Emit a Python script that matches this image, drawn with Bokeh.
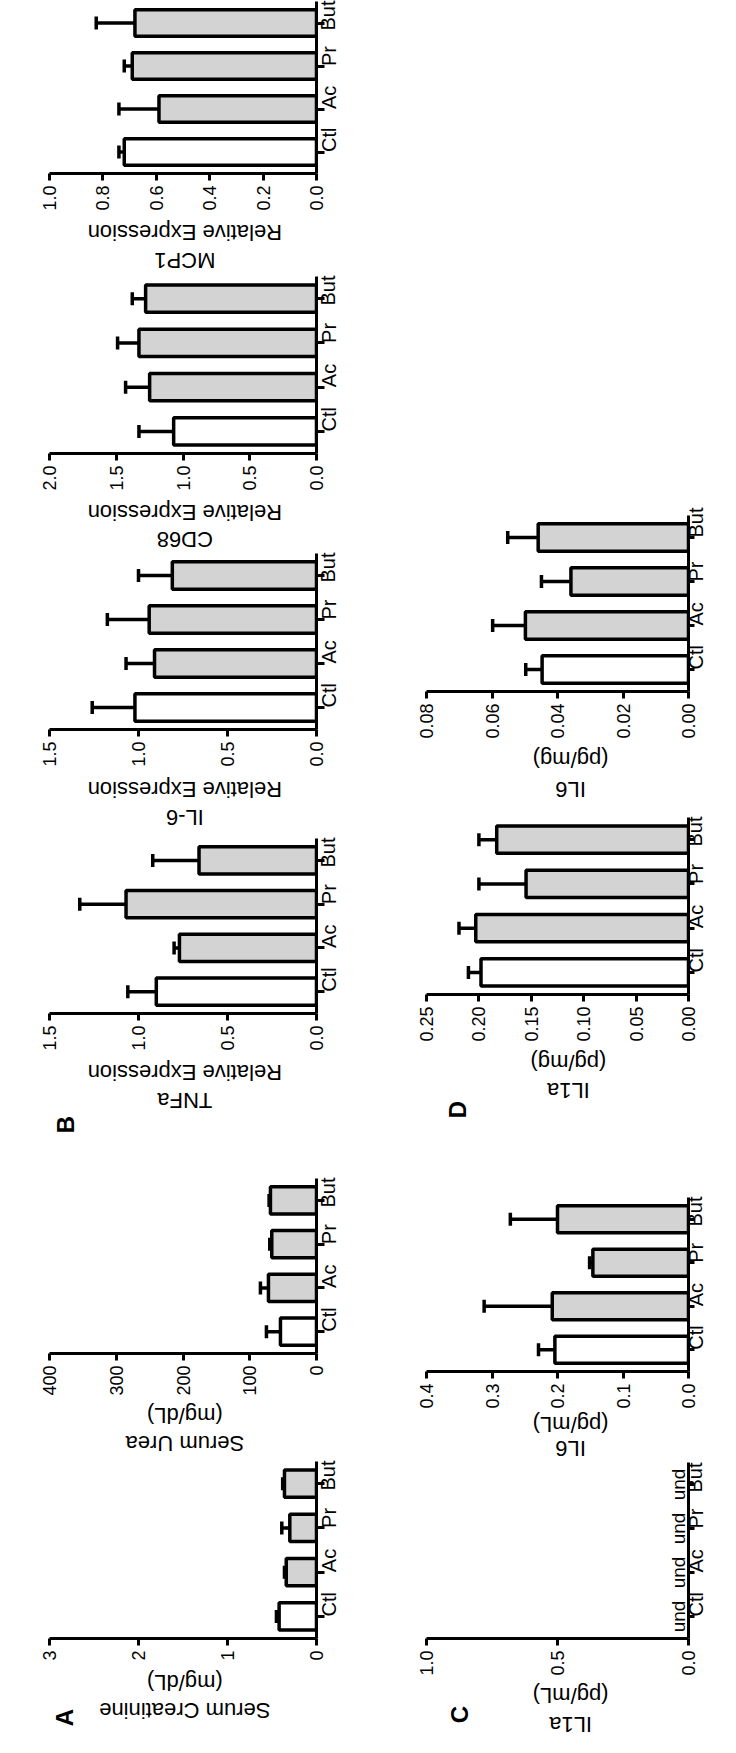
import math
from bokeh.plotting import figure
from bokeh.models import (ColumnDataSource, Range1d, FixedTicker, PrintfTickFormatter,
                          Whisker, TeeHead)
from bokeh.layouts import column, row
from bokeh.embed import file_html
from bokeh.resources import INLINE
from bokeh.core.properties import value

# ---------------- data ----------------
categories = ["Ctl", "Ac", "Pr", "But"]
bar_colors = ["#ffffff", "#d3d3d3", "#d3d3d3", "#d3d3d3"]

# Panel B
mcp1_mean = [0.72, 0.59, 0.69, 0.68]
mcp1_sem = [0.02, 0.15, 0.03, 0.145]
mcp1_ticks = [0.0, 0.2, 0.4, 0.6, 0.8, 1.0]
mcp1_tick_labels = ["0.0", "0.2", "0.4", "0.6", "0.8", "1.0"]

cd68_mean = [1.07, 1.25, 1.33, 1.28]
cd68_sem = [0.26, 0.18, 0.16, 0.10]
cd68_ticks = [0.0, 0.5, 1.0, 1.5, 2.0]
cd68_tick_labels = ["0.0", "0.5", "1.0", "1.5", "2.0"]

il6_mean = [1.02, 0.91, 0.94, 0.81]
il6_sem = [0.24, 0.16, 0.235, 0.19]
il6_ticks = [0.0, 0.5, 1.0, 1.5]
il6_tick_labels = ["0.0", "0.5", "1.0", "1.5"]

tnfa_mean = [0.90, 0.77, 1.07, 0.66]
tnfa_sem = [0.16, 0.03, 0.26, 0.26]
tnfa_ticks = [0.0, 0.5, 1.0, 1.5]
tnfa_tick_labels = ["0.0", "0.5", "1.0", "1.5"]

# Panel A
urea_mean = [54, 72, 67, 69]
urea_sem = [21, 12, 3, 2]
urea_ticks = [0, 100, 200, 300, 400]
urea_tick_labels = ["0", "100", "200", "300", "400"]

creat_mean = [0.42, 0.34, 0.30, 0.36]
creat_sem = [0.03, 0.02, 0.09, 0.02]
creat_ticks = [0, 1, 2, 3]
creat_tick_labels = ["0", "1", "2", "3"]

# Panel D
il6_mg_mean = [0.0447, 0.0498, 0.0359, 0.0459]
il6_mg_sem = [0.0050, 0.0100, 0.0090, 0.0093]
il6_mg_ticks = [0.0, 0.02, 0.04, 0.06, 0.08]
il6_mg_tick_labels = ["0.00", "0.02", "0.04", "0.06", "0.08"]

il1a_mg_mean = [0.198, 0.203, 0.155, 0.183]
il1a_mg_sem = [0.012, 0.016, 0.045, 0.017]
il1a_mg_ticks = [0.0, 0.05, 0.10, 0.15, 0.20, 0.25]
il1a_mg_tick_labels = ["0.00", "0.05", "0.10", "0.15", "0.20", "0.25"]

# Panel C
il6_ml_mean = [0.204, 0.208, 0.146, 0.200]
il6_ml_sem = [0.025, 0.104, 0.005, 0.072]
il6_ml_ticks = [0.0, 0.1, 0.2, 0.3, 0.4]
il6_ml_tick_labels = ["0.0", "0.1", "0.2", "0.3", "0.4"]

il1a_ml_text = ["und", "und", "und", "und"]
il1a_ml_ticks = [0.0, 0.5, 1.0]
il1a_ml_tick_labels = ["0.0", "0.5", "1.0"]

FONT = "Liberation Sans"
TICK_PX = 18


def axis_zone(tick_labels):
    # room needed under the frame for ticks + vertical tick labels
    w = max(TICK_PX * (0.556 * sum(c.isdigit() for c in t) + 0.278 * t.count("."))
            for t in tick_labels)
    return int(7 + 5 + w + 2)


def bar_panel(mean, sem, ticks, tick_labels, fig_w, fl, fr, ft, frame_h, zone, und=None):
    vmax = ticks[-1]
    p = figure(width=fig_w, height=ft + frame_h + zone, y_range=categories,
               x_range=Range1d(vmax, 0), output_backend="svg",
               toolbar_location=None, x_axis_location="below",
               y_axis_location="right",
               min_border_left=fl, min_border_right=fr,
               min_border_top=ft, min_border_bottom=zone)
    p.outline_line_color = None
    p.grid.visible = False
    p.background_fill_color = "white"
    p.border_fill_color = "white"

    if mean is not None:
        tops = [m + s for m, s in zip(mean, sem)]
        src = ColumnDataSource(dict(cat=categories, mean=mean, top=tops,
                                    color=bar_colors))
        w = Whisker(source=src, base="cat", lower="mean", upper="top",
                    dimension="width", line_color="black", line_width=3.5,
                    upper_head=TeeHead(size=13, line_color="black", line_width=3.5),
                    lower_head=None, level="glyph")
        p.add_layout(w)
        p.hbar(y="cat", left=0, right="mean", height=0.62, fill_color="color",
               line_color="black", line_width=3.5, source=src)
    if und is not None:
        usrc = ColumnDataSource(dict(cat=categories, txt=und, x=[0] * len(und)))
        p.text(x="x", y="cat", text="txt", source=usrc, angle=math.pi / 2,
               text_align="center", text_baseline="bottom",
               text_font=value(FONT), text_font_size="19px", text_color="black")

    dec = max((len(t.split(".")[1]) if "." in t else 0) for t in tick_labels)
    xa = p.xaxis[0]
    xa.ticker = FixedTicker(ticks=ticks)
    xa.formatter = PrintfTickFormatter(format="%." + str(dec) + "f")
    xa.major_label_orientation = math.pi / 2
    xa.axis_line_width = 3
    xa.axis_line_color = "black"
    xa.major_tick_line_width = 3
    xa.major_tick_out = 7
    xa.major_tick_in = 0
    xa.minor_tick_line_color = None
    xa.major_label_standoff = 5
    xa.major_label_text_font = FONT
    xa.major_label_text_font_size = str(TICK_PX) + "px"
    xa.major_label_text_color = "black"

    ya = p.yaxis[0]
    ya.major_label_orientation = math.pi / 2
    ya.axis_line_width = 3
    ya.axis_line_color = "black"
    ya.major_tick_line_width = 3
    ya.major_tick_out = 6 if fr < 40 else 8
    ya.major_tick_in = 0
    ya.major_label_standoff = 1 if fr < 40 else 4
    ya.major_label_text_font = FONT
    ya.major_label_text_font_size = "20px"
    ya.major_label_text_color = "black"
    return p


def title_strip(fig_w, h, xc, lines, letter=None):
    # strip under a panel holding its (upside-down) two-line value-axis title
    p = figure(width=fig_w, height=h, x_range=Range1d(0, fig_w), y_range=Range1d(0, h),
               output_backend="svg", toolbar_location=None,
               x_axis_type=None, y_axis_type=None,
               min_border_left=0, min_border_right=0,
               min_border_top=0, min_border_bottom=0)
    p.outline_line_color = None
    p.grid.visible = False
    p.background_fill_color = "white"
    p.border_fill_color = "white"
    txt = [t for t, _ in lines]
    ys = [h - d for _, d in lines]
    p.text(x=[xc] * len(txt), y=ys, text=txt, angle=math.pi,
           text_align="center", text_baseline="middle",
           text_font=value(FONT), text_font_size="22px", text_color="black")
    if letter is not None:
        ch, lx, ld = letter
        p.text(x=[lx], y=[h - ld], text=[ch], angle=math.pi / 2,
               text_align="center", text_baseline="middle",
               text_font=value(FONT), text_font_style="bold",
               text_font_size="24px", text_color="black")
    return p


def build_column(specs, fig_w, start, end):
    items = []
    s = start
    for i, sp in enumerate(specs):
        top, bottom = sp["frame"]
        fl, fr = sp["lr"]
        zone = axis_zone(sp["tick_labels"])
        ft = top - s
        frame_h = bottom - top
        items.append(bar_panel(sp["mean"], sp["sem"], sp["ticks"], sp["tick_labels"],
                               fig_w, fl, fr, ft, frame_h, zone, und=sp.get("und")))
        strip_top = bottom + zone
        strip_end = specs[i + 1]["frame"][0] - sp.get("gap", 1) if i + 1 < len(specs) else end
        frame_w = fig_w - fl - fr
        xc = fl + frame_w / 2
        o1, o2 = sp["title_off"]
        lines = [(sp["title"][0], bottom + o1 - strip_top),
                 (sp["title"][1], bottom + o2 - strip_top)]
        letter = None
        if "letter" in sp:
            ch, lx, ly = sp["letter"]
            letter = (ch, lx, bottom + ly - strip_top)
        items.append(title_strip(fig_w, strip_end - strip_top, xc, lines, letter))
        s = strip_end
    return column(*items, spacing=0)


LEFT_W, RIGHT_W = 360, 360

left_specs = [
    dict(mean=mcp1_mean, sem=mcp1_sem, ticks=mcp1_ticks, tick_labels=mcp1_tick_labels,
         title=("Relative Expression", "MCP1"), frame=(9, 182), lr=(49, 44),
         title_off=(58, 86)),
    dict(mean=cd68_mean, sem=cd68_sem, ticks=cd68_ticks, tick_labels=cd68_tick_labels,
         title=("Relative Expression", "CD68"), frame=(284, 462), lr=(49, 44),
         title_off=(58, 85)),
    dict(mean=il6_mean, sem=il6_sem, ticks=il6_ticks, tick_labels=il6_tick_labels,
         title=("Relative Expression", "IL-6"), frame=(561, 738), lr=(49, 44),
         title_off=(59, 87)),
    dict(mean=tnfa_mean, sem=tnfa_sem, ticks=tnfa_ticks, tick_labels=tnfa_tick_labels,
         title=("Relative Expression", "TNFa"), frame=(846, 1022), lr=(49, 44),
         title_off=(58, 86), letter=("B", 22, 110)),
    dict(mean=urea_mean, sem=urea_sem, ticks=urea_ticks, tick_labels=urea_tick_labels,
         title=("(mg/dL)", "Serum Urea"), frame=(1186, 1362), lr=(49, 44),
         title_off=(61, 89)),
    dict(mean=creat_mean, sem=creat_sem, ticks=creat_ticks, tick_labels=creat_tick_labels,
         title=("(mg/dL)", "Serum Creatinine"), frame=(1469, 1647), lr=(49, 44),
         title_off=(43, 71), letter=("A", 20, 78)),
]

right_specs = [
    dict(mean=il6_mg_mean, sem=il6_mg_sem, ticks=il6_mg_ticks,
         tick_labels=il6_mg_tick_labels, title=("(pg/mg)", "IL6"),
         frame=(523, 700), lr=(66, 30), title_off=(67, 97)),
    dict(mean=il1a_mg_mean, sem=il1a_mg_sem, ticks=il1a_mg_ticks,
         tick_labels=il1a_mg_tick_labels, title=("(pg/mg)", "IL1a"),
         frame=(825, 1003), lr=(62, 32), title_off=(67, 95), letter=("D", 43, 114)),
    dict(mean=il6_ml_mean, sem=il6_ml_sem, ticks=il6_ml_ticks,
         tick_labels=il6_ml_tick_labels, title=("(pg/mL)", "IL6"),
         frame=(1205, 1380), lr=(66, 30), title_off=(52, 76), gap=0),
    dict(mean=None, sem=None, ticks=il1a_ml_ticks, tick_labels=il1a_ml_tick_labels,
         title=("(pg/mL)", "IL1a"), frame=(1470, 1647), lr=(66, 30),
         title_off=(56, 85), letter=("C", 45, 75), und=il1a_ml_text),
]

left = build_column(left_specs, LEFT_W, 8, 1744)
right = build_column(right_specs, RIGHT_W, 8, 1744)
layout = row(left, right, spacing=0)

open("out.html", "w").write(file_html(layout, INLINE))
